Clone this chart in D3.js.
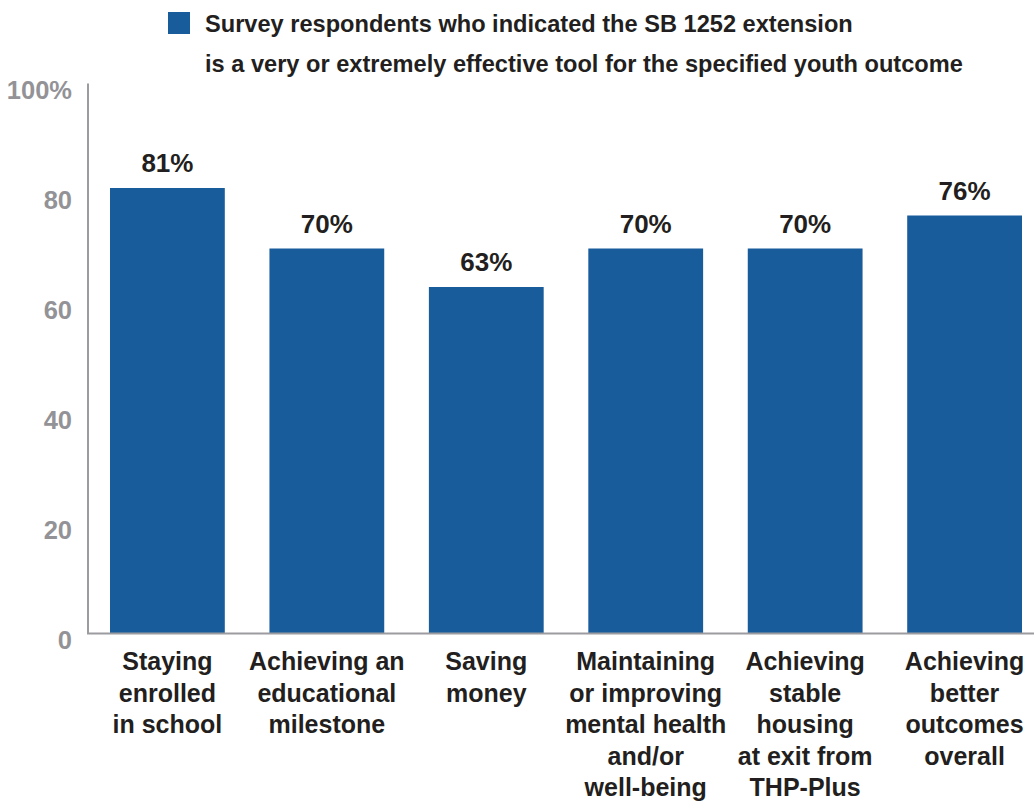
<!DOCTYPE html>
<html>
<head>
<meta charset="utf-8">
<script src="https://cdn.jsdelivr.net/npm/d3@7"></script>
<style>
  body { margin: 0; background: #fff; }
  text { font-family: "Liberation Sans Narrow", "Arial Narrow", sans-serif; font-weight: bold; }
</style>
</head>
<body>
<script>
let width = 1034;
let height = 803;

let categories = [
    ["Staying", "enrolled", "in school"],
    ["Achieving an", "educational", "milestone"],
    ["Saving", "money"],
    ["Maintaining", "or improving", "mental health", "and/or", "well-being"],
    ["Achieving", "stable", "housing", "at exit from", "THP-Plus"],
    ["Achieving", "better", "outcomes", "overall"]
];
let values = [81, 70, 63, 70, 70, 76];
let yTicks = [0, 20, 40, 60, 80, 100];
let legendLines = [
    "Survey respondents who indicated the SB 1252 extension",
    "is a very or extremely effective tool for the specified youth outcome"
];

let barColor = "#195c9b";
let textColor = "#231f20";
let axisColor = "#9c9ca0";

let svg = d3.select("body").append("svg")
    .attr("width", width)
    .attr("height", height);

let x = d3.scaleBand()
    .domain(d3.range(categories.length))
    .range([110, 1022])
    .paddingInner(0.28)
    .paddingOuter(0);

let y = d3.scaleLinear()
    .domain([0, 100])
    .range([633.5, 83.5]);

// Legend
svg.append("rect")
    .attr("x", 168).attr("y", 12)
    .attr("width", 22).attr("height", 22)
    .style("fill", barColor);

svg.selectAll("text.legend")
    .data(legendLines)
    .enter()
    .append("text")
    .attr("class", "legend")
    .attr("x", 205)
    .attr("y", (d, i) => 32 + i * 40)
    .style("font-size", "23.6px")
    .style("fill", textColor)
    .text(d => d);

// Bars
svg.selectAll("rect.bar")
    .data(values)
    .enter()
    .append("rect")
    .attr("class", "bar")
    .attr("x", (d, i) => x(i))
    .attr("y", d => y(d))
    .attr("width", x.bandwidth())
    .attr("height", d => y(0) - y(d))
    .style("fill", barColor);

// Value labels
svg.selectAll("text.value")
    .data(values)
    .enter()
    .append("text")
    .attr("class", "value")
    .attr("x", (d, i) => x(i) + x.bandwidth() / 2)
    .attr("y", d => y(d) - 16)
    .attr("text-anchor", "middle")
    .style("font-size", "26px")
    .style("fill", textColor)
    .text(d => d + "%");

// Y axis
let yAxis = svg.append("g")
    .attr("transform", "translate(88,0)")
    .call(d3.axisLeft(y).tickValues(yTicks).tickSize(0).tickPadding(16)
        .tickFormat(d => d === 100 ? "100%" : d));
yAxis.select(".domain").remove();
yAxis.selectAll("text")
    .attr("dy", "0.32em")
    .attr("y", 7)
    .style("font-family", "\"Liberation Sans Narrow\", sans-serif")
    .style("font-weight", "bold")
    .style("font-size", "25.5px")
    .style("fill", "#939397");

// Axis lines
svg.append("line")
    .attr("x1", 88).attr("x2", 88)
    .attr("y1", y(100)).attr("y2", y(0))
    .style("stroke", axisColor).style("stroke-width", 2);
svg.append("line")
    .attr("x1", 87).attr("x2", width)
    .attr("y1", y(0)).attr("y2", y(0))
    .style("stroke", axisColor).style("stroke-width", 2);

// Category labels
let cat = svg.selectAll("text.cat")
    .data(categories)
    .enter()
    .append("text")
    .attr("class", "cat")
    .attr("x", (d, i) => x(i) + x.bandwidth() / 2)
    .attr("y", 670)
    .attr("text-anchor", "middle")
    .style("font-size", "25px")
    .style("fill", textColor);

cat.selectAll("tspan")
    .data(d => d)
    .enter()
    .append("tspan")
    .attr("x", function () { return d3.select(this.parentNode).attr("x"); })
    .attr("dy", (d, i) => i === 0 ? 0 : 31.5)
    .text(d => d);
</script>
</body>
</html>
